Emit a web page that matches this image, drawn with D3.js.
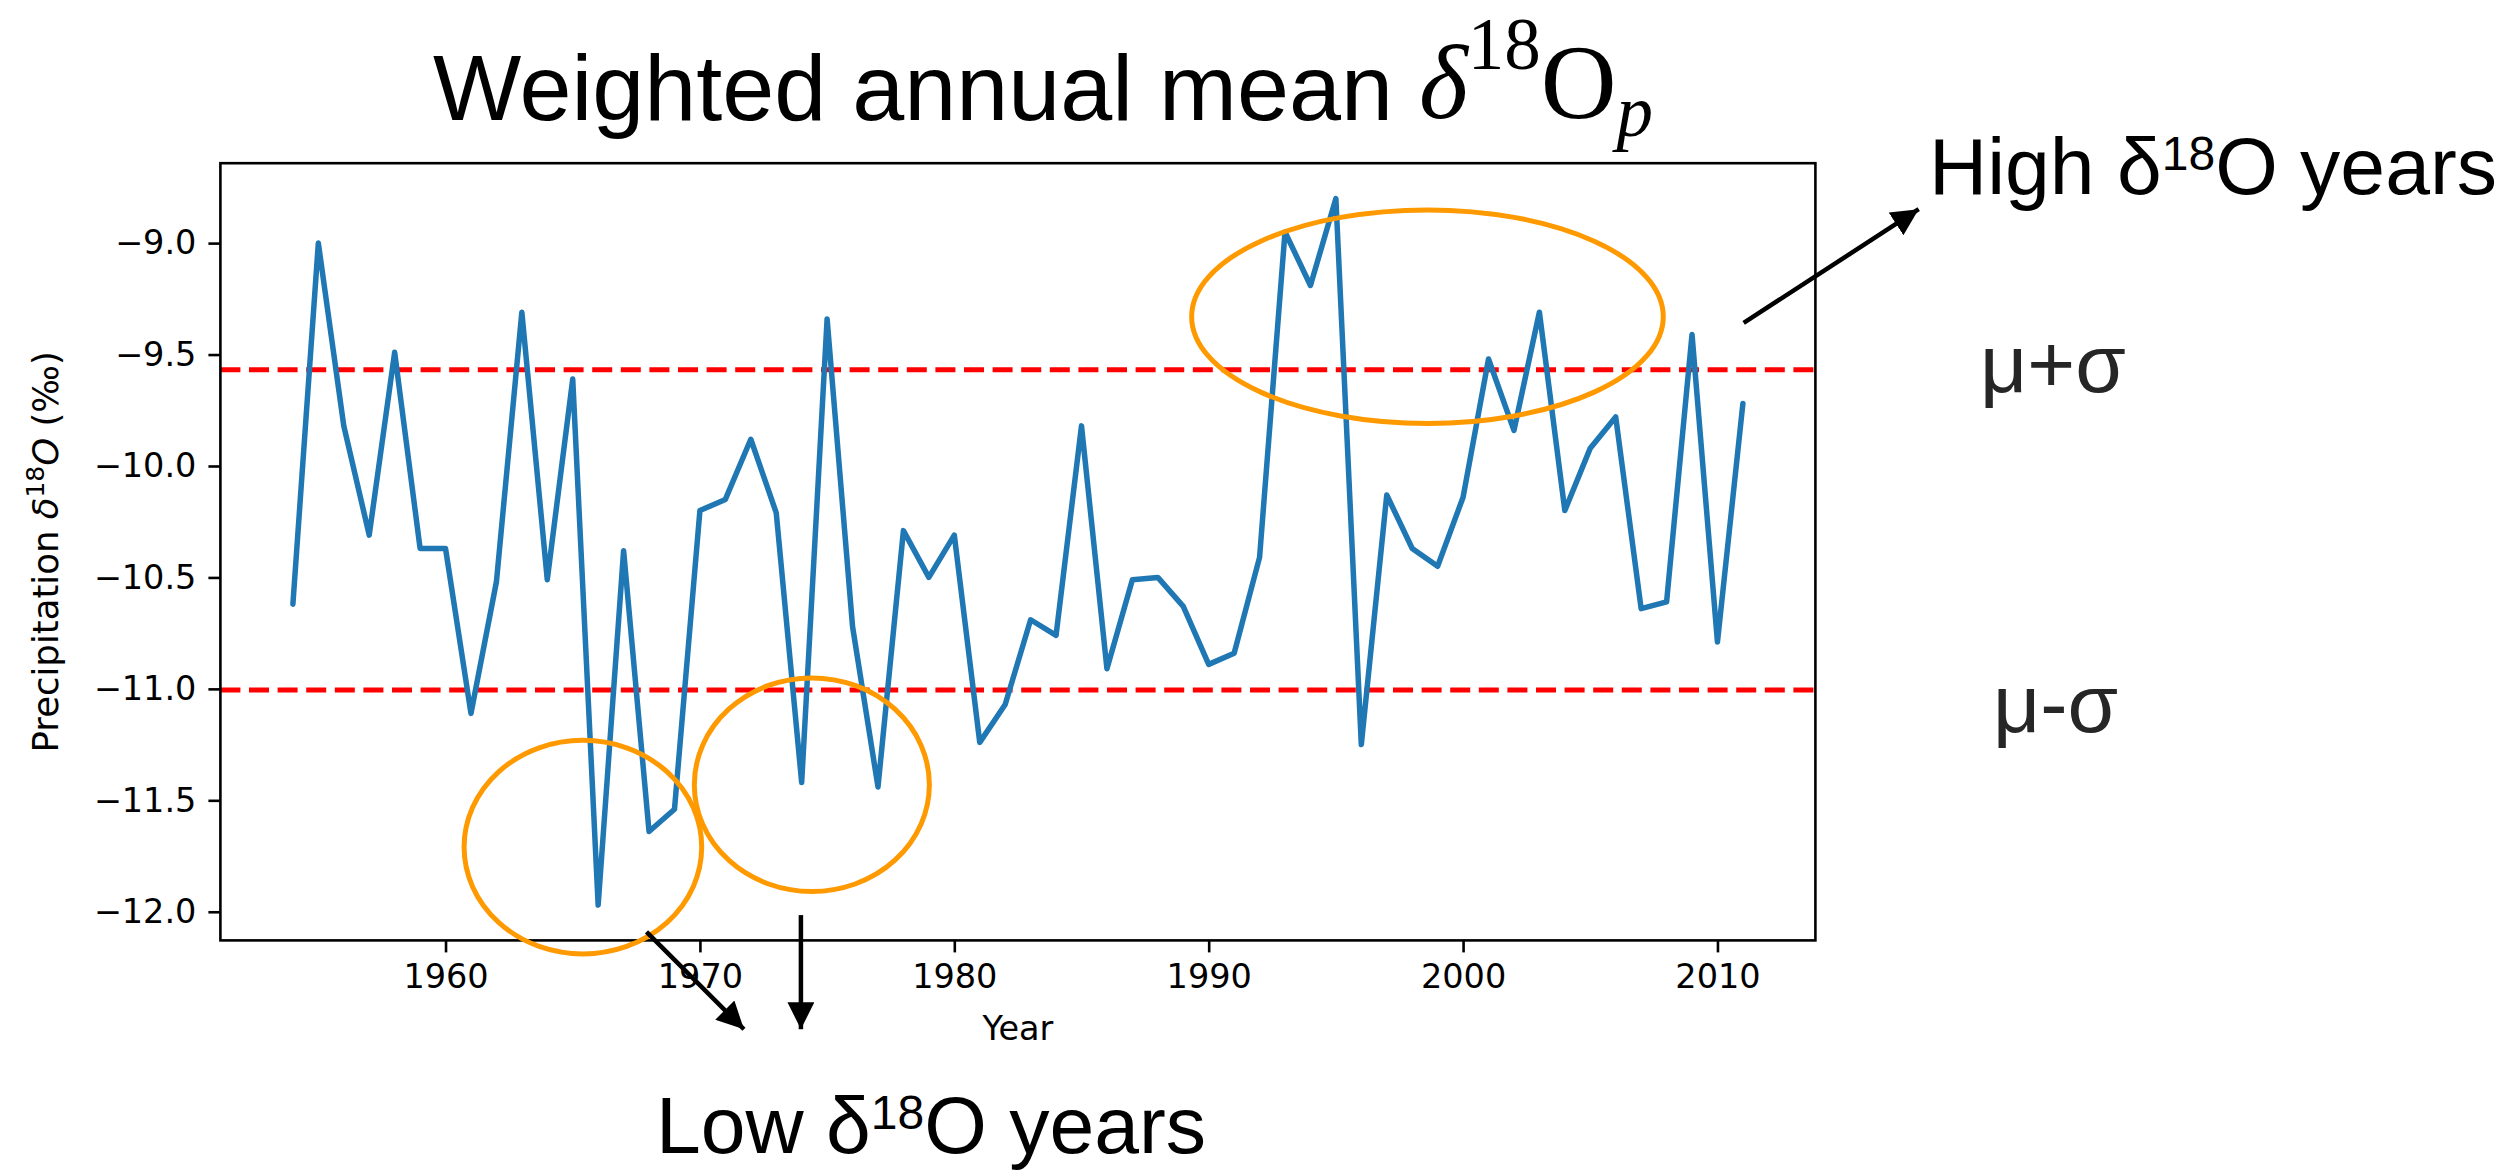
<!DOCTYPE html>
<html>
<head>
<meta charset="utf-8">
<script src="https://cdn.jsdelivr.net/npm/d3@7"></script>
<style>
  body { margin: 0; background: #fff; }
  svg { display: block; }
</style>
</head>
<body>
<script>
// yearly weighted mean d18O of precipitation
var years = [];
for (var yr = 1954; yr <= 2011; yr++) years.push(yr);
var d18O = [
  -10.62, -9.00, -9.82, -10.31, -9.49, -10.37, -10.37, -11.11, -10.52, -9.31,
  -10.51, -9.61, -11.97, -10.38, -11.64, -11.54, -10.20, -10.15, -9.88, -10.21,
  -11.42, -9.34, -10.72, -11.44, -10.29, -10.50, -10.31, -11.24, -11.07, -10.69,
  -10.76, -9.82, -10.91, -10.51, -10.50, -10.63, -10.89, -10.84, -10.41, -8.95,
  -9.19, -8.80, -11.25, -10.13, -10.37, -10.45, -10.14, -9.52, -9.84, -9.31,
  -10.20, -9.92, -9.78, -10.64, -10.61, -9.41, -10.79, -9.72
];
var sigmaLines = [-9.568, -11.005];   // mu+sigma, mu-sigma
var yTicks = [-12.0, -11.5, -11.0, -10.5, -10.0, -9.5, -9.0];
var xTicks = [1960, 1970, 1980, 1990, 2000, 2010];

// orange circles: centre year, centre value, half-width (years), half-height (value)
var circles = [
  {x: 1965.4, y: -11.71, rx: 4.67, ry: 0.479},
  {x: 1974.4, y: -11.43, rx: 4.62, ry: 0.479},
  {x: 1998.6, y: -9.33, rx: 9.27, ry: 0.479}
];
// arrows in data space (from -> to)
var arrows = [
  {x1: 1967.9, y1: -12.09, x2: 1971.73, y2: -12.527},
  {x1: 1973.97, y1: -12.015, x2: 1973.97, y2: -12.527},
  {x1: 2011.03, y1: -9.358, x2: 2017.91, y2: -8.848}
];

var W = 2514, H = 1170;
var plotL = 220.4, plotR = 1815.4, plotT = 163.2, plotB = 940.4;

var svg = d3.select('body').append('svg').attr('width', W).attr('height', H);
svg.append('rect').attr('width', W).attr('height', H).attr('fill', '#fff');

// matplotlib style 5% margins
var xpad = (d3.max(years) - d3.min(years)) * 0.05;
var ypad = (d3.max(d18O) - d3.min(d18O)) * 0.05;
var x = d3.scaleLinear().domain([d3.min(years) - xpad, d3.max(years) + xpad]).range([plotL, plotR]);
var y = d3.scaleLinear().domain([d3.min(d18O) - ypad, d3.max(d18O) + ypad]).range([plotB, plotT]);

var tickFont = '"DejaVu Sans", sans-serif';

// axes
var gx = svg.append('g').attr('transform', 'translate(0,' + plotB + ')')
  .call(d3.axisBottom(x).tickValues(xTicks).tickFormat(d3.format('d')).tickSize(12).tickPadding(12));
var gy = svg.append('g').attr('transform', 'translate(' + plotL + ',0)')
  .call(d3.axisLeft(y).tickValues(yTicks).tickFormat(d3.format('.1f')).tickSize(12).tickPadding(12));
[gx, gy].forEach(function (g) {
  g.select('.domain').remove();
  g.selectAll('line').attr('stroke', '#000').attr('stroke-width', 2.6);
  g.selectAll('text').attr('font-family', tickFont).attr('font-size', 33.5).attr('fill', '#000');
});

// mean +/- sigma
svg.selectAll('line.sig').data(sigmaLines).enter().append('line')
  .attr('class', 'sig')
  .attr('x1', plotL).attr('x2', plotR)
  .attr('y1', function (d) { return y(d); })
  .attr('y2', function (d) { return y(d); })
  .attr('stroke', '#ff0000').attr('stroke-width', 5)
  .attr('stroke-dasharray', '20,8.6');

// the series
var line = d3.line()
  .x(function (d, i) { return x(years[i]); })
  .y(function (d) { return y(d); });
svg.append('path').datum(d18O)
  .attr('d', line)
  .attr('fill', 'none')
  .attr('stroke', '#1f77b4')
  .attr('stroke-width', 5.5)
  .attr('stroke-linejoin', 'round')
  .attr('stroke-linecap', 'round');

// frame
svg.append('rect')
  .attr('x', plotL).attr('y', plotT)
  .attr('width', plotR - plotL).attr('height', plotB - plotT)
  .attr('fill', 'none').attr('stroke', '#000').attr('stroke-width', 2.6);

// axis labels
svg.append('text')
  .attr('x', (plotL + plotR) / 2).attr('y', 1040)
  .attr('text-anchor', 'middle')
  .attr('font-family', tickFont).attr('font-size', 33.5)
  .text('Year');

var ylab = svg.append('text')
  .attr('transform', 'translate(58,' + ((plotT + plotB) / 2) + ') rotate(-90)')
  .attr('text-anchor', 'middle')
  .attr('font-family', tickFont).attr('font-size', 35.5);
ylab.append('tspan').text('Precipitation ');
ylab.append('tspan').attr('font-style', 'italic').text('δ');
ylab.append('tspan').attr('font-size', 25).attr('dy', -14).text('18');
ylab.append('tspan').attr('font-style', 'italic').attr('dy', 14).text('O');
ylab.append('tspan').text(' (‰)');

// annotations
svg.selectAll('ellipse').data(circles).enter().append('ellipse')
  .attr('cx', function (d) { return x(d.x); })
  .attr('cy', function (d) { return y(d.y); })
  .attr('rx', function (d) { return x(d.x + d.rx) - x(d.x); })
  .attr('ry', function (d) { return y(d.y - d.ry) - y(d.y); })
  .attr('fill', 'none').attr('stroke', '#ff9900').attr('stroke-width', 5);

svg.append('defs').append('marker')
  .attr('id', 'head')
  .attr('markerUnits', 'userSpaceOnUse')
  .attr('markerWidth', 30).attr('markerHeight', 28)
  .attr('refX', 27).attr('refY', 13.5)
  .attr('orient', 'auto')
  .append('path').attr('d', 'M0,0 L27,13.5 L0,27 Z').attr('fill', '#000');

svg.selectAll('line.arrow').data(arrows).enter().append('line')
  .attr('class', 'arrow')
  .attr('x1', function (d) { return x(d.x1); })
  .attr('y1', function (d) { return y(d.y1); })
  .attr('x2', function (d) { return x(d.x2); })
  .attr('y2', function (d) { return y(d.y2); })
  .attr('stroke', '#000').attr('stroke-width', 4.5)
  .attr('marker-end', 'url(#head)');

var sans = '"Liberation Sans", Arial, sans-serif';
var serif = '"Liberation Serif", "Times New Roman", serif';

function isoLabel(px, py, word1, word2) {
  var t = svg.append('text').attr('x', px).attr('y', py)
    .attr('font-family', sans).attr('font-size', 80.5).attr('fill', '#000');
  t.append('tspan').text(word1 + ' δ');
  t.append('tspan').attr('font-size', 48).attr('dy', -24).text('18');
  t.append('tspan').attr('dy', 24).text('O ' + word2);
}
isoLabel(1929, 194, 'High', 'years');
isoLabel(656, 1153, 'Low', 'years');

svg.append('text').attr('x', 1980).attr('y', 392)
  .attr('font-family', sans).attr('font-size', 82).attr('fill', '#262626')
  .text('μ+σ');
svg.append('text').attr('x', 1993).attr('y', 732)
  .attr('font-family', sans).attr('font-size', 82).attr('fill', '#262626')
  .text('μ-σ');

// title
var title = svg.append('text').attr('x', 433).attr('y', 120)
  .attr('font-family', sans).attr('font-size', 93.5).attr('fill', '#000');
title.append('tspan').text('Weighted annual mean ');
title.append('tspan').attr('font-family', serif).attr('font-style', 'italic')
  .attr('font-size', 105).attr('dy', -2).text('δ');
title.append('tspan').attr('font-family', serif).attr('font-size', 73)
  .attr('dy', -49).text('18');
title.append('tspan').attr('font-family', serif).attr('font-size', 105)
  .attr('dy', 49).text('O');
title.append('tspan').attr('font-family', serif).attr('font-style', 'italic')
  .attr('font-size', 73).attr('dy', 18).text('p');
</script>
</body>
</html>
